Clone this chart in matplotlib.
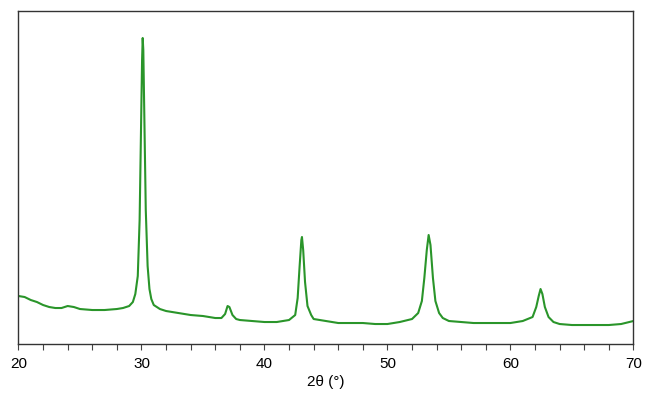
import numpy as np
import matplotlib.pyplot as plt
from matplotlib.ticker import MultipleLocator

# diffraction pattern (2theta in degrees, intensity a.u.)
two_theta = [20.0, 20.5, 21.0, 21.5, 22.0, 22.5, 23.0, 23.5, 24.0, 24.5, 25.0, 26.0, 27.0,
             28.0, 28.5, 29.0, 29.3, 29.5, 29.7, 29.85, 29.95, 30.05, 30.1, 30.15, 30.25,
             30.35, 30.5, 30.65, 30.8, 31.0, 31.5, 32.0, 33.0, 34.0, 35.0, 36.0, 36.5,
             36.8, 37.0, 37.15, 37.4, 37.7, 38.0, 39.0, 40.0, 41.0, 42.0, 42.5, 42.7,
             42.85, 43.0, 43.05, 43.15, 43.3, 43.5, 43.8, 44.0, 45.0, 46.0, 47.0, 48.0,
             49.0, 50.0, 51.0, 52.0, 52.5, 52.8, 53.0, 53.2, 53.35, 53.5, 53.7, 53.9,
             54.2, 54.5, 55.0, 56.0, 57.0, 58.0, 59.0, 60.0, 61.0, 61.8, 62.1, 62.3,
             62.45, 62.6, 62.8, 63.1, 63.5, 64.0, 65.0, 66.0, 67.0, 68.0, 69.0, 70.0]
intensity = [48, 47, 44, 42, 39, 37, 36, 36, 38, 37, 35, 34, 34,
             35, 36, 38, 42, 50, 68, 124, 204, 284, 306, 294, 214,
             134, 78, 55, 45, 39, 35, 33, 31, 29, 28, 26, 26,
             30, 38, 37, 29, 25, 24, 23, 22, 22, 24, 29, 46,
             76, 104, 107, 94, 62, 38, 29, 25, 23, 21, 21, 21,
             20, 20, 22, 25, 31, 43, 66, 94, 109, 99, 66, 43,
             31, 26, 23, 22, 21, 21, 21, 21, 23, 27, 37, 48,
             55, 50, 37, 27, 22, 20, 19, 19, 19, 19, 20, 23]

plt.rcParams['font.family'] = ['Liberation Sans', 'DejaVu Sans']

fig = plt.figure(figsize=(6.53, 3.99), dpi=100)
ax = fig.add_axes([0.0283, 0.1378, 0.9417, 0.8334])

ax.plot(two_theta, np.array(intensity), color='#2a952a', lw=1.5)

ax.set_xlim(20, 70)
ax.set_ylim(0, 332.5)
ax.xaxis.set_major_locator(MultipleLocator(10))
ax.xaxis.set_minor_locator(MultipleLocator(2))
ax.tick_params(axis='x', which='both', direction='out', length=4, width=0.8,
               color='#444444', labelsize=11, pad=5)
ax.set_yticks([])
for s in ax.spines.values():
    s.set_color('#333333')
    s.set_linewidth(1.0)

ax.set_xlabel('2θ (°)', fontsize=11, labelpad=3)

fig.savefig('out.png', dpi=100)
